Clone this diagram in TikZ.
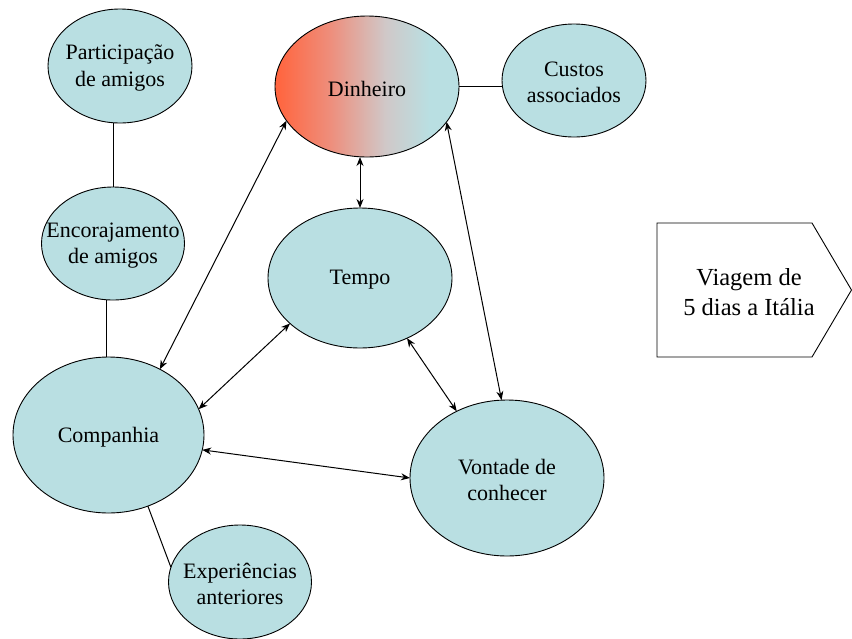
\documentclass[tikz,border=0pt]{standalone}
\usepackage{fontspec}
\setmainfont{Liberation Serif}
\newfontfamily\tnr{Liberation Serif}
\usetikzlibrary{arrows.meta,shapes.geometric}
\definecolor{bub}{RGB}{185,223,226}
\definecolor{dred}{RGB}{255,102,64}
\definecolor{dsal}{RGB}{238,142,124}
\definecolor{dmid}{RGB}{208,200,200}
\pgfdeclarehorizontalshading{dinshade}{100bp}{color(0bp)=(dred); color(26bp)=(dred); color(40bp)=(dsal); color(55bp)=(dmid); color(67bp)=(bub); color(100bp)=(bub)}
\begin{document}
\begin{tikzpicture}[x=1pt,y=-1pt,
  bubble/.style={ellipse, draw=black, fill=bub, line width=0.9pt, inner sep=0pt, outer sep=0pt},
  lbl/.style={font=\tnr\fontsize{22}{26.5}\selectfont, align=center, inner sep=0pt},
  biglbl/.style={font=\tnr\fontsize{24.5}{30}\selectfont, align=center, inner sep=0pt},
  link/.style={line width=1pt, draw=black},
  biarrow/.style={link, {Stealth[length=9pt,width=7pt]}-{Stealth[length=9pt,width=7pt]}}]
\useasboundingbox (0,0) rectangle (852,638);
% bubbles
\node[bubble, minimum width=144pt, minimum height=114pt] (part) at (120,66) {};
\node[bubble, minimum width=143pt, minimum height=113pt] (enc) at (113,243.5) {};
\node[bubble, shade, shading=dinshade, minimum width=184pt, minimum height=141pt] (din) at (367,86.5) {};
\node[bubble, minimum width=144pt, minimum height=113pt] (cust) at (574,80.5) {};
\node[bubble, minimum width=184pt, minimum height=140pt] (tempo) at (360,278) {};
\node[bubble, minimum width=191pt, minimum height=156pt] (comp) at (108.5,435) {};
\node[bubble, minimum width=194pt, minimum height=156pt] (vont) at (507,478) {};
\node[bubble, minimum width=143pt, minimum height=114pt] (exp) at (240,582) {};
% labels
\node[lbl] (partT) at ([yshift=-2pt]part) {Participação\\de amigos};
\node[lbl] (encT) at ([yshift=-2pt]enc) {Encorajamento\\de amigos};
\node[lbl] (dinT) at ([yshift=-2pt]din) {Dinheiro};
\node[lbl] (custT) at ([yshift=-2pt]cust) {Custos\\associados};
\node[lbl] (tempoT) at ([yshift=-2pt]tempo) {Tempo};
\node[lbl] (compT) at ([yshift=-2pt]comp) {Companhia};
\node[lbl] (vontT) at ([yshift=-2pt]vont) {Vontade de\\conhecer};
\node[lbl] (expT) at ([yshift=-2pt]exp) {Experiências\\anteriores};
% pentagon arrow box
\coordinate (p1) at (657,223);
\coordinate (p2) at (812,223);
\coordinate (p3) at (851.5,290);
\coordinate (p4) at (812,357);
\coordinate (p5) at (657,357);
\draw[line width=0.9pt] (p1) -- (p2) -- (p3) -- (p4) -- (p5) -- cycle;
\node[biglbl] (viag) at (749,292) {Viagem de\\5 dias a Itália};
% plain links
\draw[link] (enc.north |- part.south) -- (enc.north);
\draw[link] (enc.-97) -- (enc.-97 |- comp.north);
\draw[link] (din.east) -- (din.east -| cust.west);
\draw[link] (comp.-61.6) -- (exp.168.8);
% double arrows
\draw[biarrow] (din.203.8) -- (comp.52.5);
\draw[biarrow] (din.south -| tempo.north) -- (tempo.north);
\draw[biarrow] (din.-24.1) -- (vont.94.5);
\draw[biarrow] (tempo.213.2) -- (comp.16.7);
\draw[biarrow] (tempo.-52.9) -- (vont.127.4);
\draw[biarrow] (comp.-9.4) -- (vont.west);
\end{tikzpicture}
\end{document}
